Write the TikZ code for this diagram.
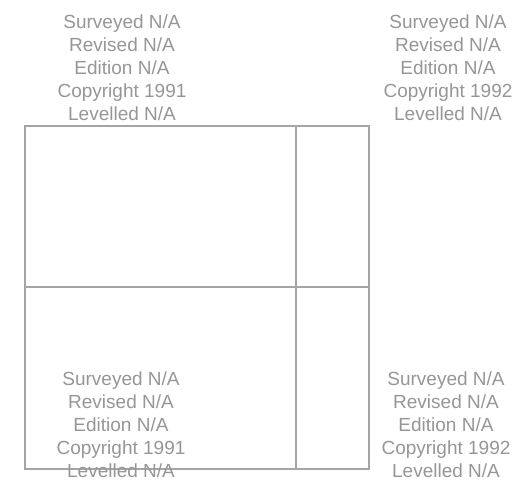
\documentclass[tikz,border=0pt]{standalone}
\usepackage{fontspec}
\setmainfont{Liberation Sans}
\definecolor{txtgray}{RGB}{150,150,150}
\definecolor{lngray}{RGB}{165,165,165}
\begin{document}
\begin{tikzpicture}[x=1pt,y=1pt,
  info/.style={align=center,text=txtgray,inner sep=0pt,
    font=\fontsize{19}{23}\selectfont},
  edge/.style={draw=lngray,line width=2pt}]
\useasboundingbox (0,0) rectangle (525,483);
\coordinate (tl) at (25,357);
\coordinate (tr) at (369,357);
\coordinate (bl) at (25,14);
\coordinate (br) at (369,14);
\coordinate (vt) at (296,357);
\coordinate (vb) at (296,14);
\coordinate (ml) at (25,196);
\coordinate (mr) at (369,196);
\draw[edge] (tl) -- (tr) -- (br) -- (bl) -- cycle;
\draw[edge] (vt) -- (vb);
\draw[edge] (ml) -- (mr);
\node[info] (a) at (122,415) {Surveyed N/A\\Revised N/A\\Edition N/A\\Copyright 1991\\Levelled N/A};
\node[info] (b) at (448,415) {Surveyed N/A\\Revised N/A\\Edition N/A\\Copyright 1992\\Levelled N/A};
\node[info] (c) at (121,58) {Surveyed N/A\\Revised N/A\\Edition N/A\\Copyright 1991\\Levelled N/A};
\node[info] (d) at (446,58) {Surveyed N/A\\Revised N/A\\Edition N/A\\Copyright 1992\\Levelled N/A};
\end{tikzpicture}
\end{document}
